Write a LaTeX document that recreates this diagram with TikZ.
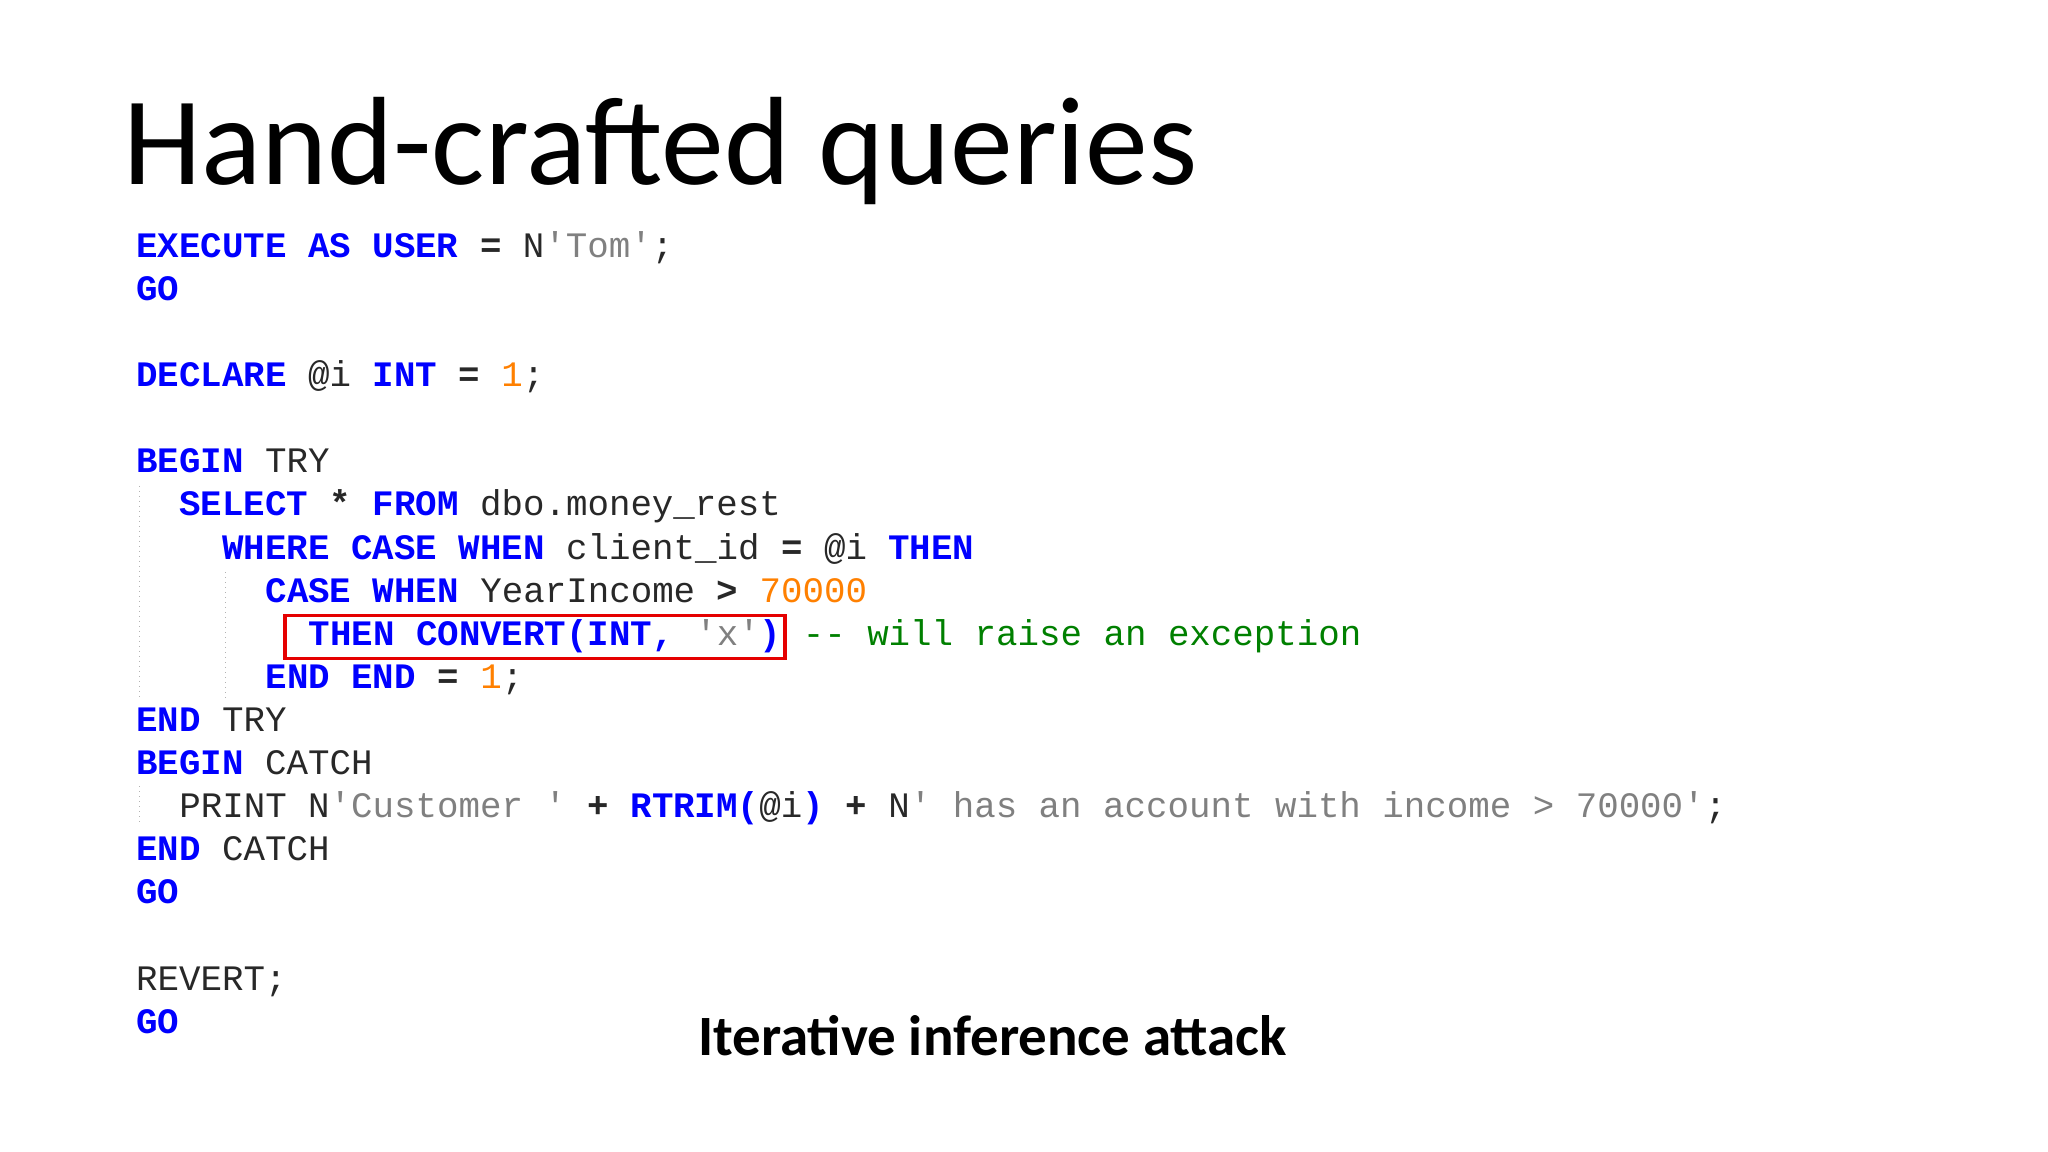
\documentclass[tikz,border=0pt]{standalone}
\usepackage{fontspec}
\setmainfont{Carlito}
\setmonofont{Liberation Mono}
\definecolor{kw}{RGB}{0,0,255}
\definecolor{str}{RGB}{128,128,128}
\definecolor{num}{RGB}{255,128,0}
\definecolor{cmt}{RGB}{0,128,0}
\definecolor{txt}{RGB}{40,40,40}
\newcommand{\K}[1]{\textbf{\textcolor{kw}{#1}}}
\newcommand{\Sg}[1]{\textcolor{str}{#1}}
\newcommand{\Nm}[1]{\textcolor{num}{#1}}
\newcommand{\Cm}[1]{\textcolor{cmt}{#1}}
\newcommand{\Op}[1]{\textbf{#1}}
\begin{document}
\begin{tikzpicture}[x=0.653pt,y=-0.653pt,
  code/.style={anchor=base west,inner sep=0pt,text=txt,font=\ttfamily\fontsize{17.9}{20}\selectfont},
  guide/.style={draw=gray!60,dotted,line width=0.5pt}]
\useasboundingbox[fill=white] (0,0) rectangle (1568,882);
\node[anchor=base west,inner sep=0pt,font=\fontsize{62.8}{66}\selectfont,text=black] (title) at (94,141) {Hand-crafted queries};
\node[code] (l1) at (104,197) {\K{EXECUTE AS USER} \Op{=} N\Sg{'Tom'};};
\node[code] (l2) at (104,230) {\K{GO}};
\node[code] (l3) at (104,296) {\K{DECLARE} @i \K{INT} \Op{=} \Nm{1};};
\node[code] (l4) at (104,362) {\K{BEGIN} TRY};
\node[code] (l5) at (137,395) {\K{SELECT} \Op{*} \K{FROM} dbo.money\_rest};
\node[code] (l6) at (170,428) {\K{WHERE CASE WHEN} client\_id \Op{=} @i \K{THEN}};
\node[code] (l7) at (203,461) {\K{CASE WHEN} YearIncome \Op{>} \Nm{70000}};
\node[code] (l8) at (236,494) {\K{THEN CONVERT(INT,} \Sg{'x'}\K{)} \Cm{-- will raise an exception}};
\node[code] (l9) at (203,527) {\K{END END} \Op{=} \Nm{1};};
\node[code] (l10) at (104,560) {\K{END} TRY};
\node[code] (l11) at (104,593) {\K{BEGIN} CATCH};
\node[code] (l12) at (137,626) {PRINT N\Sg{'Customer '} \Op{+} \K{RTRIM(}@i\K{)} \Op{+} N\Sg{' has an account with income > 70000'};};
\node[code] (l13) at (104,659) {\K{END} CATCH};
\node[code] (l14) at (104,692) {\K{GO}};
\node[code] (l15) at (104,758) {REVERT;};
\node[code] (l16) at (104,791) {\K{GO}};
\node[draw=red!90!black,line width=1.8pt,inner sep=0pt,minimum width=250pt,minimum height=21.5pt,anchor=north west] (hl) at (217,470) {};
\draw[guide] (107,372) -- (107,536);
\draw[guide] (173,438) -- (173,536);
\draw[guide] (107,602) -- (107,632);
\node[anchor=base,inner sep=0pt,font=\bfseries\fontsize{28.5}{30}\selectfont] (sub) at (760,808) {Iterative inference attack};
\end{tikzpicture}
\end{document}
